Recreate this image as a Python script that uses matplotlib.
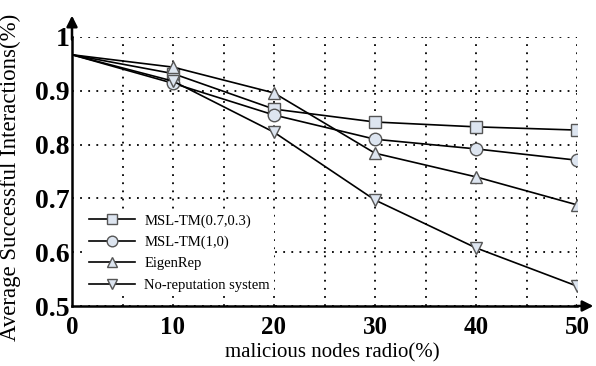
import matplotlib.pyplot as plt
import numpy as np

plt.rcParams['font.family'] = ['Liberation Serif', 'DejaVu Serif']

x = [0, 10, 20, 30, 40, 50]
msl_073 = [0.967, 0.932, 0.866, 0.842, 0.833, 0.827]
msl_10 = [0.967, 0.914, 0.855, 0.810, 0.792, 0.771]
eigenrep = [0.967, 0.944, 0.896, 0.784, 0.740, 0.688]
norep = [0.967, 0.918, 0.823, 0.697, 0.608, 0.537]
labels = ['MSL-TM(0.7,0.3)', 'MSL-TM(1,0)', 'EigenRep', 'No-reputation system']

fill = '#dde5f0'
style = dict(color='black', lw=1.2, ms=9, mfc=fill, mec='#555555', mew=1.0,
             markevery=slice(1, None))

fig = plt.figure(figsize=(5.96, 3.66), dpi=100)
ax = fig.add_axes([72/596, 60/366, 505/596, 269/366])

ax.plot(x, msl_073, marker='s', **style)
ax.plot(x, msl_10, marker='o', **style)
ax.plot(x, eigenrep, marker='^', **style)
ax.plot(x, norep, marker='v', **style)

ax.set_xlim(0, 50)
ax.set_ylim(0.5, 1.0)
ax.set_xticks(np.arange(0, 51, 5))
ax.set_xticklabels(['0', '', '10', '', '20', '', '30', '', '40', '', '50'],
                   fontsize=18, fontweight='bold')
ax.set_yticks([0.5, 0.6, 0.7, 0.8, 0.9, 1.0])
ax.set_yticklabels(['0.5', '0.6', '0.7', '0.8', '0.9', '1'], fontsize=20, fontweight='bold')
ax.tick_params(length=0, pad=2)
ax.tick_params(axis='x', pad=7)
ax.grid(True, color='black', linestyle=(0, (1, 3.5)), linewidth=1.3)

for s in ['top', 'right']:
    ax.spines[s].set_visible(False)
for s in ['left', 'bottom']:
    ax.spines[s].set_linewidth(1.8)

# arrows on the axes
ax.annotate('', xy=(0, 1.045), xytext=(0, 0.99), xycoords='data',
            arrowprops=dict(arrowstyle='-|>', color='black', lw=1.8, mutation_scale=16),
            annotation_clip=False)
ax.annotate('', xy=(51.9, 0.5), xytext=(49.5, 0.5), xycoords='data',
            arrowprops=dict(arrowstyle='-|>', color='black', lw=1.8, mutation_scale=16),
            annotation_clip=False)

ax.set_xlabel('malicious nodes radio(%)', fontsize=15, labelpad=0)
ax.xaxis.set_label_coords(0.516, -0.14)
ax.set_ylabel('Average Successful Interactions(%)', fontsize=16.5, labelpad=2)
ax.yaxis.set_label_coords(-0.1, 0.48)

leg = ax.legend(labels, loc='lower left', bbox_to_anchor=(0.01, 0.01), fontsize=10.5,
                frameon=True, fancybox=False, edgecolor='none', framealpha=1.0,
                handlelength=3.2, markerscale=0.85, labelspacing=0.55, borderpad=0.3,
                handletextpad=0.6)

plt.savefig('out.png', dpi=100)
